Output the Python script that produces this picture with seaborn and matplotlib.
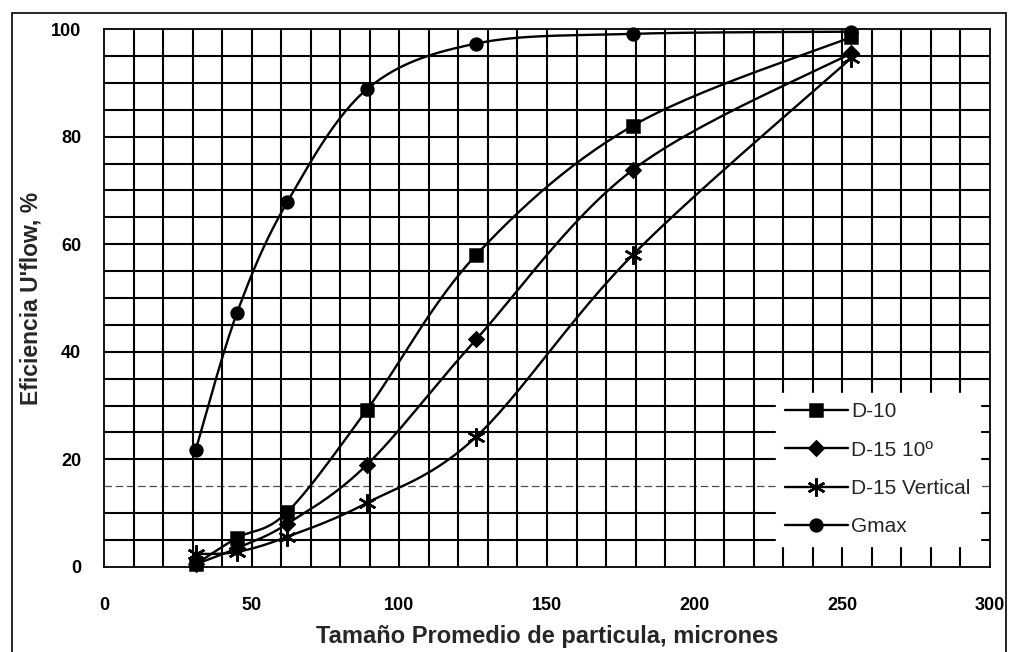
import numpy as np
import pandas as pd
import matplotlib
matplotlib.use("Agg")
import matplotlib.pyplot as plt
from matplotlib.lines import Line2D
from matplotlib.patches import Rectangle
import seaborn as sns

# Particle size classes (microns) and underflow efficiency (%) per classifier
tamano = [31, 45, 62, 89, 126, 179, 253]
d10 = [0.5, 5.4, 10.2, 29.2, 58.0, 82.0, 98.5]
d15_10 = [0.5, 3.5, 8.0, 19.0, 42.3, 73.8, 95.5]
d15_vert = [2.4, 2.8, 5.6, 11.9, 24.2, 58.0, 94.6]
gmax = [21.7, 47.2, 67.8, 88.8, 97.3, 99.1, 99.5]

series_names = ["D-10", "D-15 10º", "D-15 Vertical", "Gmax"]
series_values = [d10, d15_10, d15_vert, gmax]
markers = ["s", "D", (6, 2, 0), "o"]
marker_sizes = [8.5, 7, 13, 8.5]

x_ticks = [0, 50, 100, 150, 200, 250, 300]
y_ticks = [0, 20, 40, 60, 80, 100]


def smooth_curve(x, y, steps=30):
    """Cardinal (Catmull-Rom style) Bezier smoothing through every point."""
    pts = np.column_stack([x, y]).astype(float)
    n = len(pts)
    out = [pts[0]]
    for i in range(n - 1):
        p0 = pts[i - 1] if i > 0 else pts[i]
        p1 = pts[i]
        p2 = pts[i + 1]
        p3 = pts[i + 2] if i + 2 < n else pts[i + 1]
        c1 = p1 + (p2 - p0) / 6.0
        c2 = p2 - (p3 - p1) / 6.0
        t = np.linspace(0, 1, steps)[1:, None]
        seg = ((1 - t) ** 3) * p1 + 3 * ((1 - t) ** 2) * t * c1 \
            + 3 * (1 - t) * t ** 2 * c2 + t ** 3 * p2
        out.extend(seg)
    out = np.array(out)
    return out[:, 0], out[:, 1]


sns.set_style("white")
plt.rcParams["font.family"] = ["Liberation Sans", "DejaVu Sans"]

fig = plt.figure(figsize=(10.13, 6.52), dpi=100)
ax = fig.add_axes([0.1027, 0.1304, 0.8746, 0.8251])

# Grid: vertical every 10 microns, horizontal every 5 %
for gx in range(10, 300, 10):
    ax.axvline(gx, color="black", lw=1.5, zorder=1)
for gy in range(5, 100, 5):
    if gy == 15:
        ax.axhline(gy, color="black", lw=0.9, ls=(0, (6, 3)), alpha=0.7, zorder=1)
    else:
        ax.axhline(gy, color="black", lw=1.5, zorder=1)

handles = []
for name, vals, mk, ms in zip(series_names, series_values, markers, marker_sizes):
    sx, sy = smooth_curve(tamano, vals)
    curve = pd.DataFrame({"x": sx, "y": sy})
    sns.lineplot(data=curve, x="x", y="y", sort=False, color="black", lw=1.7,
                 ax=ax, zorder=3, legend=False)
    pts = pd.DataFrame({"x": tamano, "y": vals})
    ax.plot(pts["x"], pts["y"], ls="none", marker=mk, ms=ms, color="black",
            mec="black", mew=1.8, zorder=4, clip_on=False)
    handles.append(Line2D([], [], color="black", lw=1.7, marker=mk, ms=ms,
                          mew=1.8, label=name))

ax.set_xlim(0, 300)
ax.set_ylim(0, 100)
ax.set_xticks(x_ticks)
ax.set_yticks(y_ticks)
ax.set_xticks(np.arange(0, 301, 10), minor=True)
ax.set_yticks(np.arange(0, 101, 5), minor=True)
ax.tick_params(axis="both", which="major", direction="inout", length=9, width=1.2,
               labelsize=13, colors="black")
ax.tick_params(axis="both", which="minor", direction="inout", length=5, width=1.0)
ax.tick_params(axis="x", which="major", pad=17)
ax.tick_params(axis="y", which="major", pad=12)
for lbl in ax.get_xticklabels() + ax.get_yticklabels():
    lbl.set_fontweight("bold")

for side in ["left", "bottom", "top", "right"]:
    ax.spines[side].set_visible(True)
    ax.spines[side].set_color("black")
    ax.spines[side].set_linewidth(1.3)

ax.set_xlabel("Tamaño Promedio de particula, micrones", fontsize=17,
              fontweight="bold", labelpad=8)
ax.set_ylabel("Eficiencia U'flow, %", fontsize=16.5, fontweight="bold", labelpad=6)

leg = ax.legend(handles=handles, loc="lower right", bbox_to_anchor=(1.0, 0.02),
                frameon=True, fancybox=False, framealpha=1.0, edgecolor="white",
                fontsize=15, handlelength=3.0, handletextpad=0.15,
                labelspacing=0.93, borderpad=0.45)
leg.set_zorder(5)

# Outer frame around the whole figure
fig.patches.append(Rectangle((12 / 1013, -0.01), (1006 - 12) / 1013, (652 - 13) / 652 + 0.01,
                             transform=fig.transFigure, fill=False,
                             edgecolor="black", lw=1.2))

fig.savefig("out.png", dpi=100, facecolor="white")
